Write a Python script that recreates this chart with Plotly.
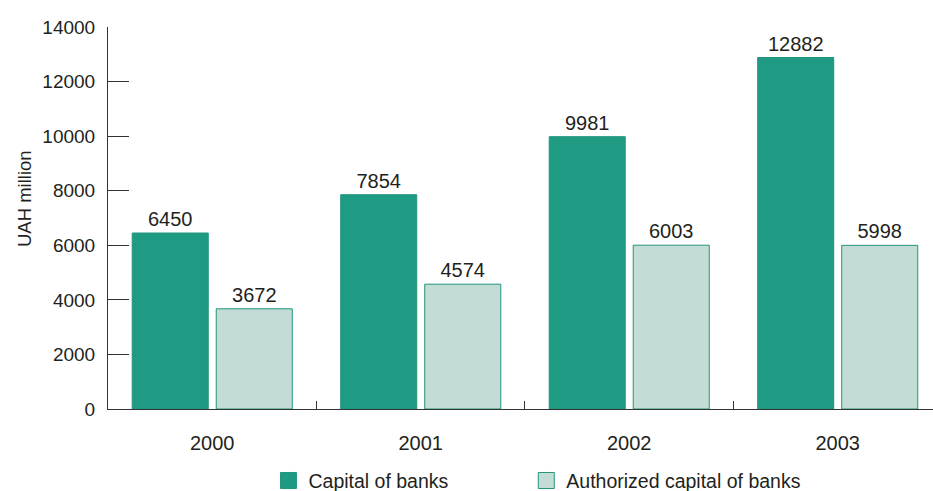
import plotly.graph_objects as go

# Bank capital in Ukraine, UAH million
years = ["2000", "2001", "2002", "2003"]
capital = [6450, 7854, 9981, 12882]
authorized = [3672, 4574, 6003, 5998]
series_names = ["Capital of banks", "Authorized capital of banks"]
y_ticks = [0, 2000, 4000, 6000, 8000, 10000, 12000, 14000]

DARK = "#1f9b83"
LIGHT = "#c3ddd6"
EDGE = "#23947d"
FONT = "Liberation Sans, Arial, sans-serif"
INK = "#231f20"

fig = go.Figure()

fig.add_trace(go.Bar(
    x=years, y=capital, name=series_names[0], showlegend=False,
    marker=dict(color=DARK, line=dict(color=EDGE, width=1)),
    text=capital, texttemplate="%{text}", textposition="outside",
    textfont=dict(size=20, color=INK, family=FONT), cliponaxis=False,
))
fig.add_trace(go.Bar(
    x=years, y=authorized, name=series_names[1], showlegend=False,
    marker=dict(color=LIGHT, line=dict(color=EDGE, width=1)),
    text=authorized, texttemplate="%{text}", textposition="outside",
    textfont=dict(size=20, color=INK, family=FONT), cliponaxis=False,
))

# Legend entries with larger square swatches, one legend box per series
for name, col, lg in zip(series_names, [DARK, LIGHT], ["legend", "legend2"]):
    fig.add_trace(go.Scatter(
        x=[None], y=[None], mode="markers", name=name, legend=lg,
        marker=dict(symbol="square", size=16, color=col,
                    line=dict(color=EDGE, width=1)),
    ))

legend_style = dict(
    orientation="h", y=-0.188, yanchor="middle", xanchor="left",
    font=dict(size=19.5, color=INK, family=FONT),
    bgcolor="rgba(0,0,0,0)",
)

fig.update_layout(
    width=933, height=491,
    margin=dict(l=108, r=0, t=27, b=82, autoexpand=False),
    paper_bgcolor="white", plot_bgcolor="white",
    font=dict(family=FONT, color=INK),
    barmode="group", bargap=0.194, bargroupgap=0.095,
    showlegend=True,
    legend=dict(x=0.1945, **legend_style),
    legend2=dict(x=0.507, **legend_style),
    annotations=[dict(
        text="UAH million", textangle=-90, showarrow=False,
        xref="paper", yref="paper",
        x=(24 - 108) / 825, y=(409 - 199) / 382,
        xanchor="center", yanchor="middle",
        font=dict(size=18.5, color=INK, family=FONT),
    )],
)

fig.update_xaxes(
    type="category", range=[-0.5, 3.457],
    showline=True, linecolor="#333333", linewidth=1,
    ticks="inside", tickson="boundaries", ticklen=8, tickcolor="#333333",
    showgrid=False, zeroline=False, automargin=False,
    tickfont=dict(size=20, color=INK, family=FONT),
    ticklabelstandoff=16,
)
fig.update_yaxes(
    range=[0, 14000], tickvals=y_ticks, ticktext=[str(v) for v in y_ticks],
    showline=True, linecolor="#333333", linewidth=1,
    ticks="inside", ticklen=21, tickcolor="#333333",
    showgrid=False, zeroline=False, automargin=False,
    tickfont=dict(size=19, color=INK, family=FONT),
    ticklabelstandoff=8,
)

fig.write_html("out.html")
